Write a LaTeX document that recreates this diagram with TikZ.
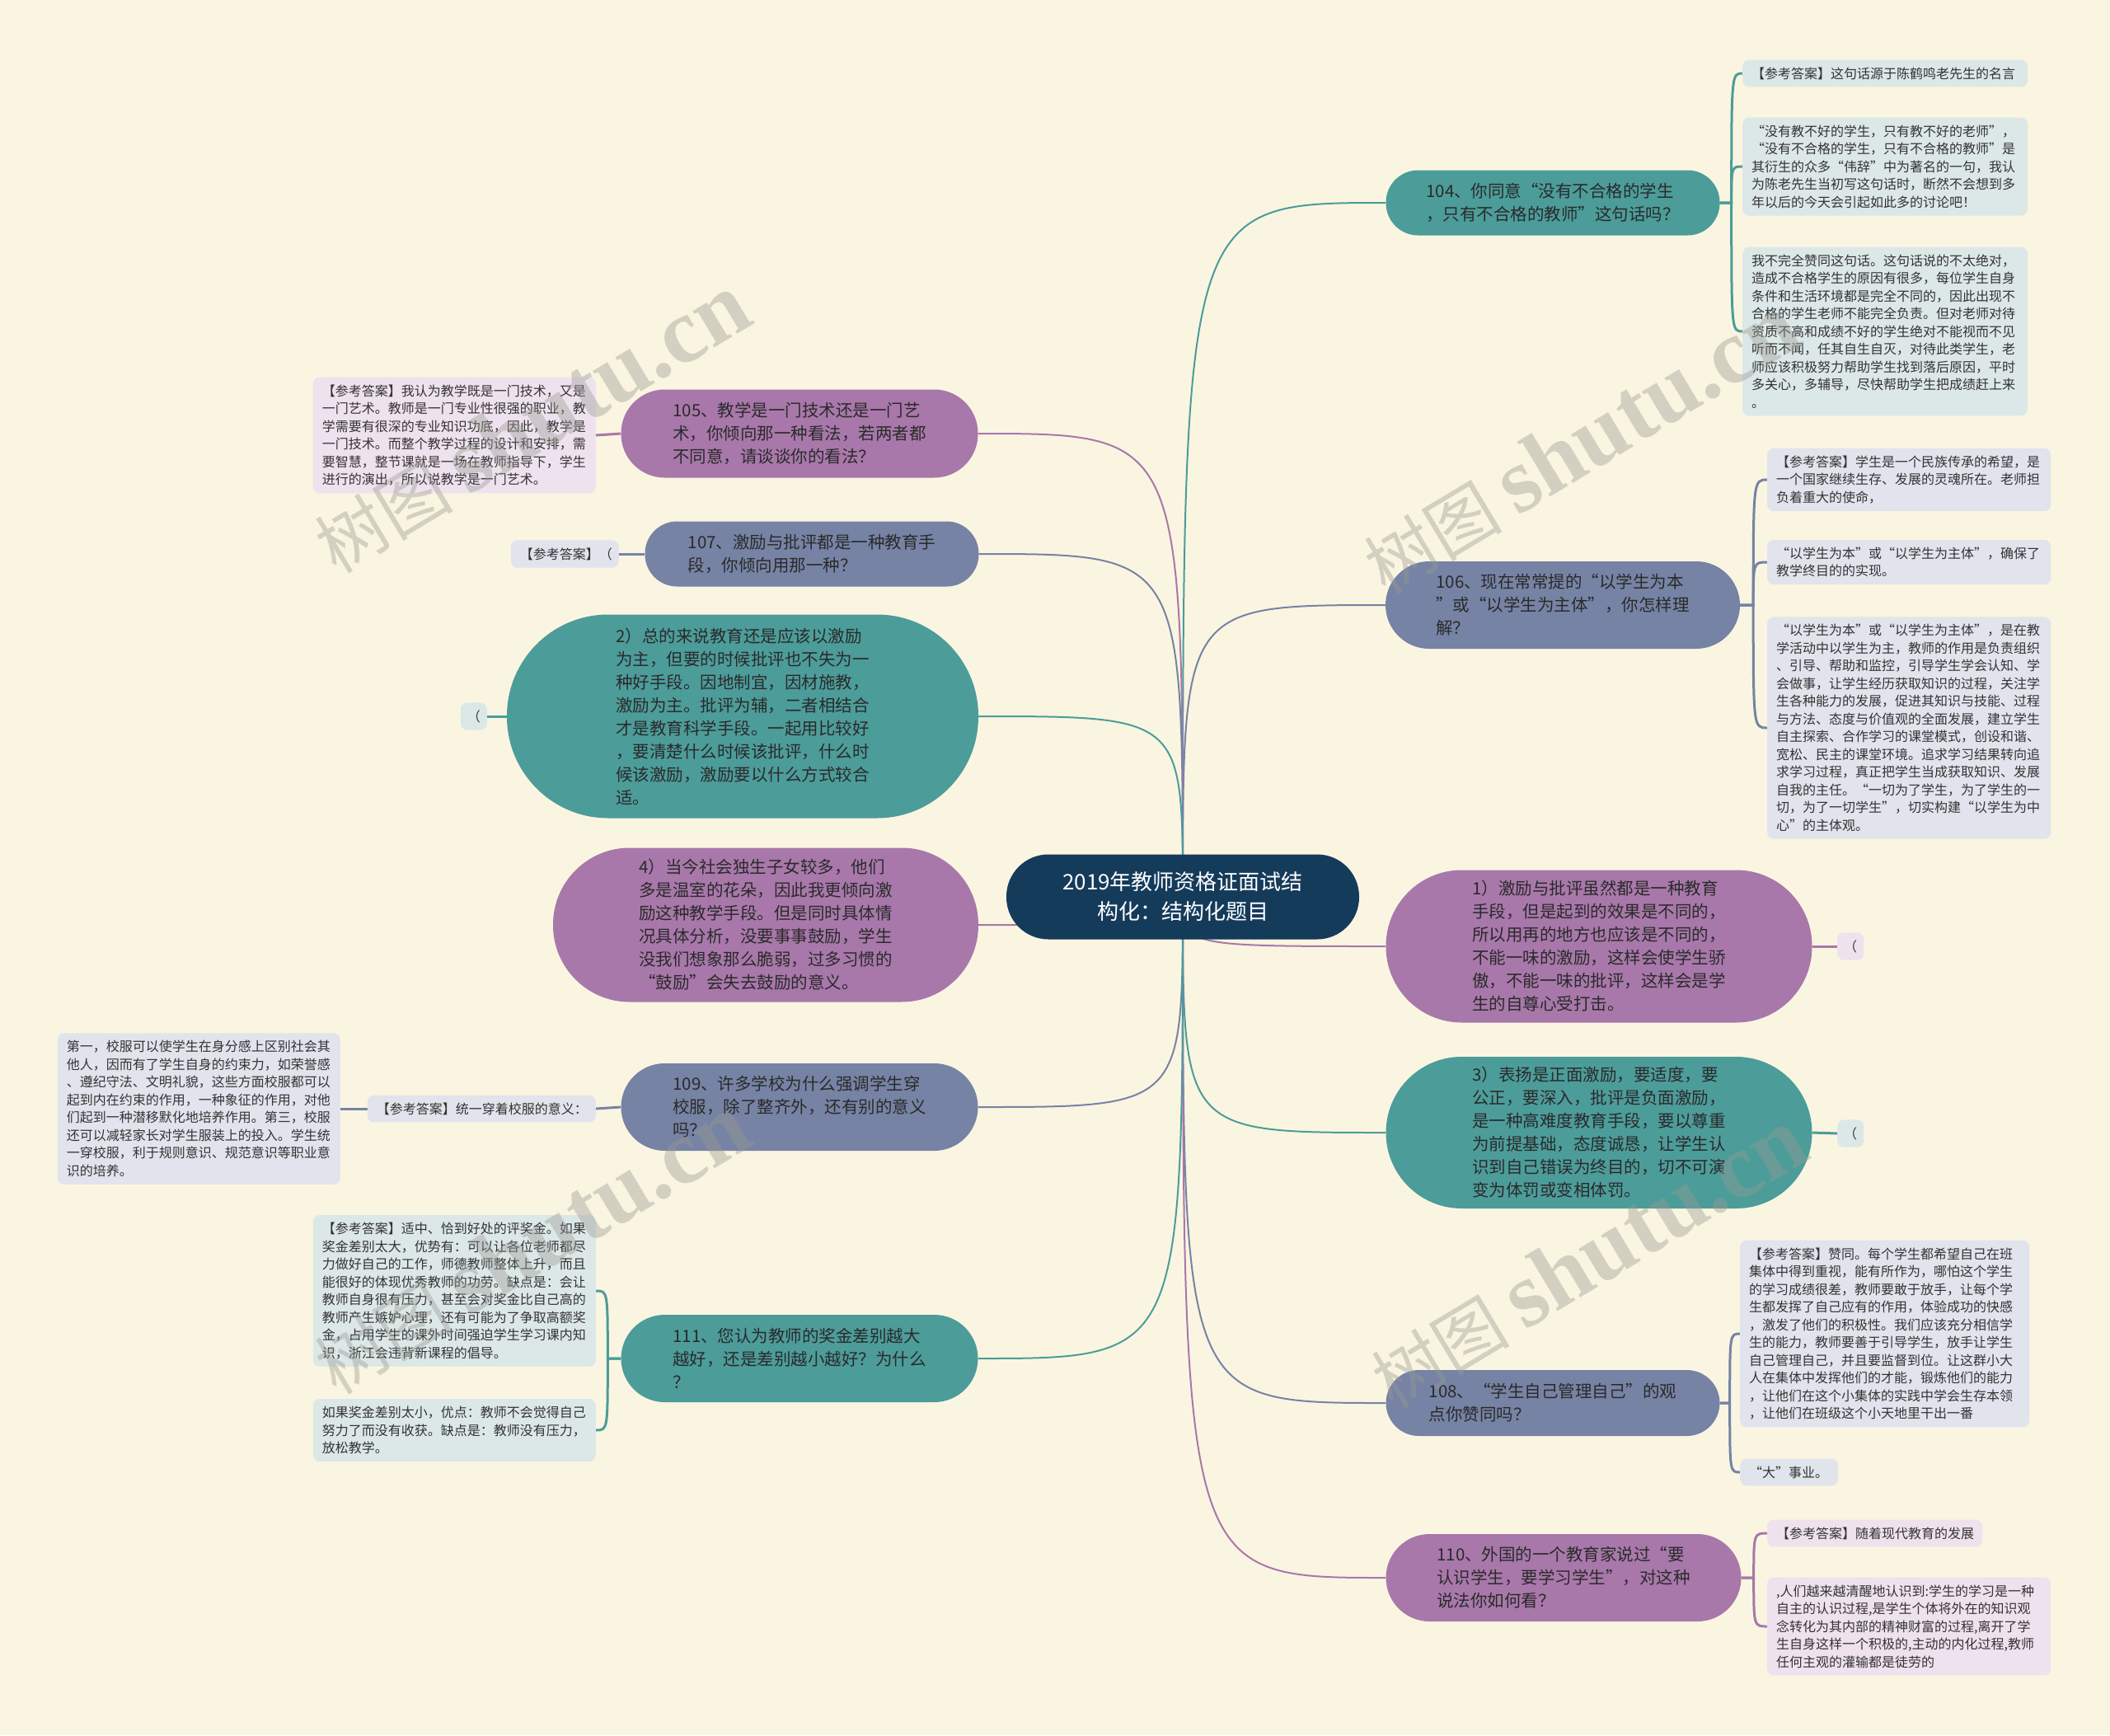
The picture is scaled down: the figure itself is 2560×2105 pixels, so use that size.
\documentclass[tikz,border=0pt]{standalone}
\usepackage{fontspec}
\newfontfamily\cjk{Noto Sans CJK SC}
\newfontfamily\wmlat{Liberation Serif}
\usetikzlibrary{calc}
\definecolor{bgc}{HTML}{FAF5E1}
\definecolor{tealM}{HTML}{4C9C9A}
\definecolor{purpM}{HTML}{A878AA}
\definecolor{slateM}{HTML}{7683A4}
\definecolor{navyM}{HTML}{153B5B}
\definecolor{tealL}{HTML}{DCE8E7}
\definecolor{purpL}{HTML}{EEE2EE}
\definecolor{slateL}{HTML}{E1E4EC}
\definecolor{txtM}{HTML}{2A2A2A}
\definecolor{txtL}{HTML}{333333}
\definecolor{wmc}{HTML}{9A9A92}
\pgfdeclarelayer{back}
\pgfdeclarelayer{bg}
\pgfsetlayers{back,bg,main}
\begin{document}
\begin{tikzpicture}[x=1pt,y=-1pt,
  mainbox/.style={draw=none, text=txtM, font=\cjk\fontsize{20.5}{28}\selectfont, align=left, inner sep=0pt},
  tealbox/.style={mainbox, fill=tealM},
  purpbox/.style={mainbox, fill=purpM},
  slatebox/.style={mainbox, fill=slateM},
  leafbox/.style={rounded corners=8pt, inner xsep=11pt, inner ysep=9pt, font=\cjk\fontsize{16}{21.5}\selectfont, align=left, text=txtL},
  leafT/.style={leafbox, fill=tealL},
  leafP/.style={leafbox, fill=purpL},
  leafS/.style={leafbox, fill=slateL},
  conn/.style={line width=2pt},
  lconn/.style={line width=3pt},
  wmark/.style={rotate=31, text=wmc, opacity=0.4, inner sep=0pt}
]
\begin{pgfonlayer}{back}
\fill[bgc] (0,0) rectangle (2560,2105);
\end{pgfonlayer}
\useasboundingbox (0,0) rectangle (2560,2105);

% center
\node[fill=navyM, text=white, font=\cjk\fontsize{26}{36}\selectfont, align=center, minimum width=428pt, minimum height=103pt, rounded corners=51pt, inner sep=0pt] (c) at (1435,1088) {2019年教师资格证面试结\\构化：结构化题目};

% right main nodes
\node[tealbox, minimum width=405pt, minimum height=79pt, rounded corners=39pt] (n104) at (1884,246) {104、你同意“没有不合格的学生\\，只有不合格的教师”这句话吗？};
\node[slatebox, minimum width=430pt, minimum height=106pt, rounded corners=53pt] (n106) at (1896,734) {106、现在常常提的“以学生为本\\”或“以学生为主体”，你怎样理\\解？};
\node[purpbox, minimum width=517pt, minimum height=185pt, rounded corners=92pt] (n1) at (1940,1148) {1）激励与批评虽然都是一种教育\\手段，但是起到的效果是不同的，\\所以用再的地方也应该是不同的，\\不能一味的激励，这样会使学生骄\\傲，不能一味的批评，这样会是学\\生的自尊心受打击。};
\node[tealbox, minimum width=517pt, minimum height=184pt, rounded corners=92pt] (n3) at (1940,1374) {3）表扬是正面激励，要适度，要\\公正，要深入，批评是负面激励，\\是一种高难度教育手段，要以尊重\\为前提基础，态度诚恳，让学生认\\识到自己错误为终目的，切不可演\\变为体罚或变相体罚。};
\node[slatebox, minimum width=405pt, minimum height=80pt, rounded corners=40pt] (n108) at (1884,1702) {108、“学生自己管理自己”的观\\点你赞同吗？};
\node[purpbox, minimum width=431pt, minimum height=106pt, rounded corners=53pt] (n110) at (1897,1914) {110、外国的一个教育家说过“要\\认识学生，要学习学生”，对这种\\说法你如何看？};

% left main nodes
\node[purpbox, minimum width=433pt, minimum height=107pt, rounded corners=53pt] (n105) at (970,526) {105、教学是一门技术还是一门艺\\术，你倾向那一种看法，若两者都\\不同意，请谈谈你的看法？};
\node[slatebox, minimum width=405pt, minimum height=79pt, rounded corners=39pt] (n107) at (985,672) {107、激励与批评都是一种教育手\\段，你倾向用那一种？};
\node[tealbox, minimum width=572pt, minimum height=247pt, rounded corners=123pt] (n2) at (901,869) {2）总的来说教育还是应该以激励\\为主，但要的时候批评也不失为一\\种好手段。因地制宜，因材施教，\\激励为主。批评为辅，二者相结合\\才是教育科学手段。一起用比较好\\，要清楚什么时候该批评，什么时\\候该激励，激励要以什么方式较合\\适。};
\node[purpbox, minimum width=516pt, minimum height=187pt, rounded corners=93pt] (n4) at (929,1122) {4）当今社会独生子女较多，他们\\多是温室的花朵，因此我更倾向激\\励这种教学手段。但是同时具体情\\况具体分析，没要事事鼓励，学生\\没我们想象那么脆弱，过多习惯的\\“鼓励”会失去鼓励的意义。};
\node[slatebox, minimum width=433pt, minimum height=106pt, rounded corners=53pt] (n109) at (970,1343) {109、许多学校为什么强调学生穿\\校服，除了整齐外，还有别的意义\\吗？};
\node[tealbox, minimum width=433pt, minimum height=106pt, rounded corners=53pt] (n111) at (970,1648) {111、您认为教师的奖金差别越大\\越好，还是差别越小越好？为什么\\？};

% right leaves
\node[leafT, text width=324pt, anchor=west] (a104) at (2114,89) {【参考答案】这句话源于陈鹤鸣老先生的名言};
\node[leafT, text width=324pt, anchor=west] (b104) at (2114,202) {“没有教不好的学生，只有教不好的老师”，\\“没有不合格的学生，只有不合格的教师”是\\其衍生的众多“伟辞”中为著名的一句，我认\\为陈老先生当初写这句话时，断然不会想到多\\年以后的今天会引起如此多的讨论吧！};
\node[leafT, text width=324pt, anchor=west] (c104) at (2114,402) {我不完全赞同这句话。这句话说的不太绝对，\\造成不合格学生的原因有很多，每位学生自身\\条件和生活环境都是完全不同的，因此出现不\\合格的学生老师不能完全负责。但对老师对待\\资质不高和成绩不好的学生绝对不能视而不见\\听而不闻，任其自生自灭，对待此类学生，老\\师应该积极努力帮助学生找到落后原因，平时\\多关心，多辅导，尽快帮助学生把成绩赶上来\\。};

\node[leafS, text width=322pt, anchor=west] (a106) at (2144,582) {【参考答案】学生是一个民族传承的希望，是\\一个国家继续生存、发展的灵魂所在。老师担\\负着重大的使命，};
\node[leafS, text width=322pt, anchor=west] (b106) at (2144,682) {“以学生为本”或“以学生为主体”，确保了\\教学终目的的实现。};
\node[leafS, text width=322pt, anchor=west] (c106) at (2144,883) {“以学生为本”或“以学生为主体”，是在教\\学活动中以学生为主，教师的作用是负责组织\\、引导、帮助和监控，引导学生学会认知、学\\会做事，让学生经历获取知识的过程，关注学\\生各种能力的发展，促进其知识与技能、过程\\与方法、态度与价值观的全面发展，建立学生\\自主探索、合作学习的课堂模式，创设和谐、\\宽松、民主的课堂环境。追求学习结果转向追\\求学习过程，真正把学生当成获取知识、发展\\自我的主任。“一切为了学生，为了学生的一\\切，为了一切学生”，切实构建“以学生为中\\心”的主体观。};

\node[leafP, inner xsep=8pt, anchor=west] (a1) at (2229,1148) {（};
\node[leafT, inner xsep=8pt, anchor=west] (a3) at (2229,1375) {（};

\node[leafS, text width=329pt, anchor=west] (a108) at (2111,1618) {【参考答案】赞同。每个学生都希望自己在班\\集体中得到重视，能有所作为，哪怕这个学生\\的学习成绩很差，教师要敢于放手，让每个学\\生都发挥了自己应有的作用，体验成功的快感\\，激发了他们的积极性。我们应该充分相信学\\生的能力，教师要善于引导学生，放手让学生\\自己管理自己，并且要监督到位。让这群小大\\人在集体中发挥他们的才能，锻炼他们的能力\\，让他们在这个小集体的实践中学会生存本领\\，让他们在班级这个小天地里干出一番};
\node[leafS, text width=97pt, anchor=west] (b108) at (2111,1786) {“大”事业。};

\node[leafP, text width=239pt, anchor=west] (a110) at (2144,1860) {【参考答案】随着现代教育的发展};
\node[leafP, text width=322pt, anchor=west] (b110) at (2144,1973) {,人们越来越清醒地认识到:学生的学习是一种\\自主的认识过程,是学生个体将外在的知识观\\念转化为其内部的精神财富的过程,离开了学\\生自身这样一个积极的,主动的内化过程,教师\\任何主观的灌输都是徒劳的};

% left leaves
\node[leafP, text width=321pt, anchor=east] (a105) at (723,528) {【参考答案】我认为教学既是一门技术，又是\\一门艺术。教师是一门专业性很强的职业，教\\学需要有很深的专业知识功底，因此，教学是\\一门技术。而整个教学过程的设计和安排，需\\要智慧，整节课就是一场在教师指导下，学生\\进行的演出，所以说教学是一门艺术。};
\node[leafS, text width=109pt, anchor=east] (a107) at (751,672) {【参考答案】（};
\node[leafT, inner xsep=8pt, anchor=east] (a2) at (591,869) {（};
\node[leafS, text width=255pt, anchor=east] (a109) at (723,1345) {【参考答案】统一穿着校服的意义：};
\node[leafS, text width=321pt, anchor=east] (b109) at (413,1345) {第一，校服可以使学生在身分感上区别社会其\\他人，因而有了学生自身的约束力，如荣誉感\\、遵纪守法、文明礼貌，这些方面校服都可以\\起到内在约束的作用，一种象征的作用，对他\\们起到一种潜移默化地培养作用。第三，校服\\还可以减轻家长对学生服装上的投入。学生统\\一穿校服，利于规则意识、规范意识等职业意\\识的培养。};
\node[leafT, text width=321pt, anchor=east] (a111) at (723,1566) {【参考答案】适中、恰到好处的评奖金。如果\\奖金差别太大，优势有：可以让各位老师都尽\\力做好自己的工作，师德教师整体上升，而且\\能很好的体现优秀教师的功劳。缺点是：会让\\教师自身很有压力，甚至会对奖金比自己高的\\教师产生嫉妒心理，还有可能为了争取高额奖\\金，占用学生的课外时间强迫学生学习课内知\\识，浙江会违背新课程的倡导。};
\node[leafT, text width=321pt, anchor=east] (b111) at (723,1735) {如果奖金差别太小，优点：教师不会觉得自己\\努力了而没有收获。缺点是：教师没有压力，\\放松教学。};

% junctions
\coordinate (j104) at ($(n104.east)+(14,0)$);
\coordinate (j106) at ($(n106.east)+(16,0)$);
\coordinate (j108) at ($(n108.east)+(12,0)$);
\coordinate (j110) at ($(n110.east)+(15,0)$);
\coordinate (j111) at ($(n111.west)+(-16,0)$);

\begin{pgfonlayer}{bg}
% center connectors
\foreach \n/\col in {n104/tealM,n106/slateM,n1/purpM,n3/tealM,n108/slateM,n110/purpM}{
  \draw[conn,\col] (c.center) .. controls (c.center |- \n.west) .. (\n.west);
}
\foreach \n/\col in {n105/purpM,n107/slateM,n2/tealM,n4/purpM,n109/slateM,n111/tealM}{
  \draw[conn,\col] (c.center) .. controls (c.center |- \n.east) .. (\n.east);
}
% leaf connectors right
\foreach \l in {a104,b104,c104}{
  \draw[lconn,tealM] (n104.east) -- (j104) .. controls (j104 |- \l.west) .. (\l.west);
}
\foreach \l in {a106,b106,c106}{
  \draw[lconn,slateM] (n106.east) -- (j106) .. controls (j106 |- \l.west) .. (\l.west);
}
\draw[lconn,purpM] (n1.east) -- (a1.west);
\draw[lconn,tealM] (n3.east) -- (a3.west);
\foreach \l in {a108,b108}{
  \draw[lconn,slateM] (n108.east) -- (j108) .. controls (j108 |- \l.west) .. (\l.west);
}
\foreach \l in {a110,b110}{
  \draw[lconn,purpM] (n110.east) -- (j110) .. controls (j110 |- \l.west) .. (\l.west);
}
% leaf connectors left
\draw[lconn,purpM] (n105.west) -- (a105.east);
\draw[lconn,slateM] (n107.west) -- (a107.east);
\draw[lconn,tealM] (n2.west) -- (a2.east);
\draw[lconn,slateM] (n109.west) -- (a109.east);
\draw[lconn,slateM] (a109.west) -- (b109.east);
\foreach \l in {a111,b111}{
  \draw[lconn,tealM] (n111.west) -- (j111) .. controls (j111 |- \l.east) .. (\l.east);
}
\end{pgfonlayer}

% watermarks
\foreach \p/\nm in {{(645,514)}/w1,{(1918,539)}/w2,{(645,1510)}/w3,{(1927,1527)}/w4}{
  \node[wmark] (\nm) at \p {{\cjk\fontsize{84}{84}\selectfont 树图}\hspace{18pt}{\wmlat\bfseries\fontsize{112}{112}\selectfont shutu.cn}};
}
\end{tikzpicture}
\end{document}
